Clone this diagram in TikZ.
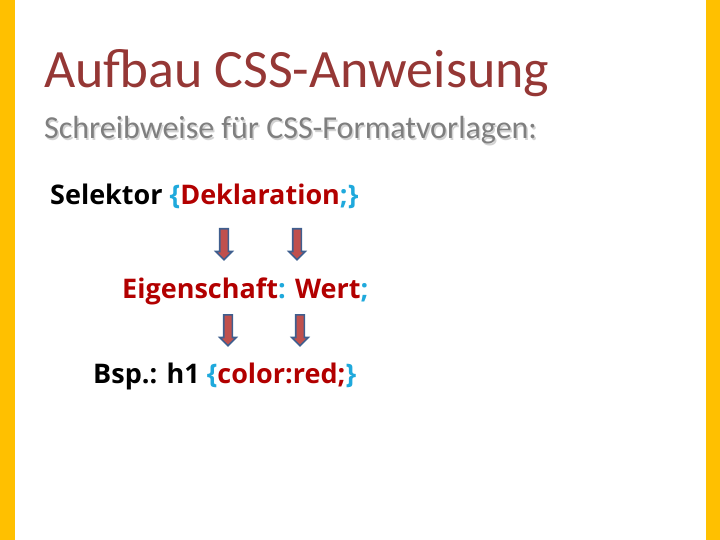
\documentclass[tikz,border=0pt]{standalone}
\usepackage{fontspec}
\setmainfont{Carlito}
\newfontfamily\codefont{Open Sans}
\usetikzlibrary{shapes.arrows}
\definecolor{barcol}{HTML}{FFC000}
\definecolor{titlecol}{HTML}{953735}
\definecolor{subcol}{HTML}{7F7F7F}
\definecolor{declcol}{HTML}{B20000}
\definecolor{bracecol}{HTML}{1FA9DC}
\definecolor{arrowfill}{HTML}{C0504D}
\definecolor{arrowline}{HTML}{3F5F8F}
\tikzset{
  txt/.style={anchor=base west, inner sep=0pt},
  code/.style={txt, font=\codefont\bfseries\fontsize{27}{32}\selectfont},
  blockarrow/.style={single arrow, draw=arrowline, fill=arrowfill, line width=1.6pt,
    inner sep=3.5pt, single arrow head extend=4pt, minimum height=31pt,
    rotate=-90, anchor=tail},
}
\newcommand{\brc}[1]{\textcolor{bracecol}{#1}}
\newcommand{\dcl}[1]{\textcolor{declcol}{#1}}
\begin{document}
\begin{tikzpicture}[x=1pt, y=-1pt]
  \useasboundingbox (0,0) rectangle (720,540);
  \fill[barcol] (0,0) rectangle (15,540);
  \fill[barcol] (706,0) rectangle (720,540);
  % title and subtitle
  \node[txt, text=titlecol, font=\fontsize{54}{60}\selectfont] (title) at (44,88) {Aufbau CSS-Anweisung};
  \node[txt, text=gray!35, font=\fontsize{32}{38}\selectfont] (subshadow) at (45.5,140.5) {Schreibweise für CSS-Formatvorlagen:};
  \node[txt, text=subcol, font=\fontsize{32}{38}\selectfont] (sub) at (44,139) {Schreibweise für CSS-Formatvorlagen:};
  % rules
  \node[code] (sel) at (50,205) {Selektor \brc{\{}\dcl{Deklaration}\brc{;\}}};
  \node[code] (prop) at (122,298) {\dcl{Eigenschaft}\brc{:} \dcl{Wert}\brc{;}};
  \node[code] (ex) at (93,383) {Bsp.: h1 \brc{\{}\dcl{color:red;}\brc{\}}};
  % arrows
  \node[blockarrow] (a1) at (224,228) {};
  \node[blockarrow] (a2) at (297,228) {};
  \node[blockarrow] (a3) at (228,314) {};
  \node[blockarrow] (a4) at (300,314) {};
\end{tikzpicture}
\end{document}
